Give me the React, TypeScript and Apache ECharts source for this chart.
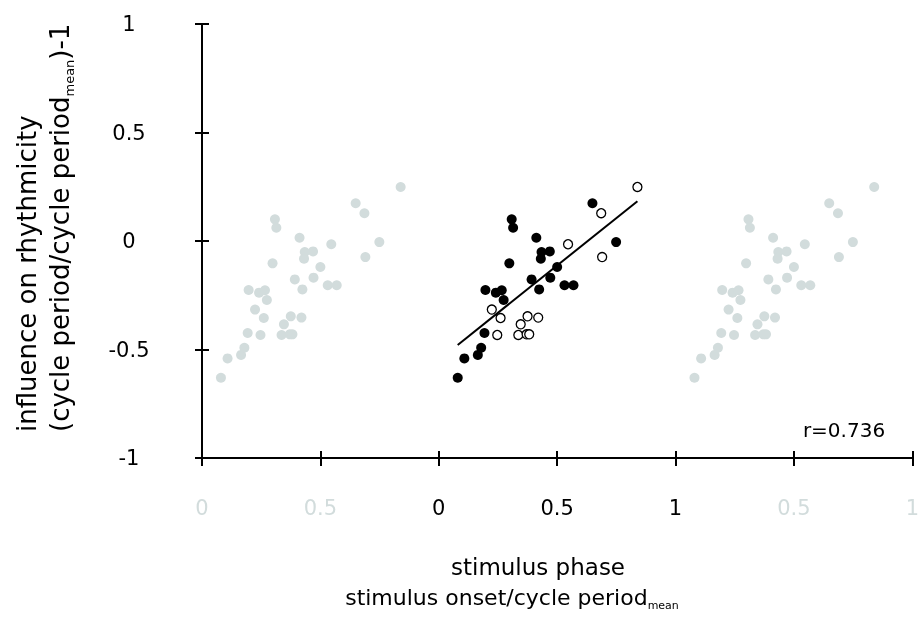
import React, { useEffect, useRef } from "react";
import * as echarts from "echarts";

// filled circles (stimulus phase, influence on rhythmicity)
const filledX = [0.080, 0.108, 0.165, 0.179, 0.193, 0.197, 0.241, 0.266, 0.274, 0.298, 0.308, 0.314, 0.392, 0.424, 0.412, 0.434, 0.431, 0.469, 0.471, 0.500, 0.531, 0.569, 0.649, 0.749];
const filledY = [-0.630, -0.541, -0.525, -0.492, -0.424, -0.226, -0.238, -0.227, -0.272, -0.103, 0.100, 0.061, -0.177, -0.223, 0.015, -0.051, -0.082, -0.048, -0.169, -0.120, -0.204, -0.204, 0.174, -0.005];
// open circles
const openX = [0.224, 0.261, 0.247, 0.346, 0.375, 0.420, 0.336, 0.371, 0.382, 0.546, 0.686, 0.690, 0.839];
const openY = [-0.316, -0.355, -0.433, -0.384, -0.347, -0.353, -0.433, -0.430, -0.430, -0.015, 0.128, -0.074, 0.249];
// regression line end points
const fitX = [0.080, 0.839];
const fitY = [-0.479, 0.183];
// tick labels
const xTickValues = [-1, -0.5, 0, 0.5, 1, 1.5, 2];
const xTickLabels = ["0", "0.5", "0", "0.5", "1", "0.5", "1"];
const xTickGray = [true, true, false, false, false, true, true];
const yTickValues = [-1, -0.5, 0, 0.5, 1];
const yTickLabels = ["-1", "-0.5", "0", "0.5", "1"];
const rText = "r=0.736";

const FONT = "'DejaVu Sans', Verdana, sans-serif";
const GRAY = "#d2dcdc";
const TICK_FS = 21;

export default function App() {
  const ref = useRef<HTMLDivElement>(null);
  useEffect(() => {
    if (!ref.current) return;
    const chart = echarts.init(ref.current, undefined, { renderer: "svg" });
    const allPts = filledX.map((x, i) => [x, filledY[i]]).concat(openX.map((x, i) => [x, openY[i]]));
    const leftGhost = allPts.map(([x, y]) => [x - 1, y]);
    const rightGhost = allPts.map(([x, y]) => [x + 1, y]);
    const findIdx = (arr: number[], v: number) => arr.findIndex((a) => Math.abs(a - v) < 1e-6);

    const baseX = {
      type: "value" as const,
      min: -1,
      max: 2,
      interval: 0.5,
      position: "bottom" as const,
      splitLine: { show: false },
    };
    const baseY = {
      type: "value" as const,
      min: -1,
      max: 1,
      interval: 0.5,
      position: "left" as const,
      splitLine: { show: false },
    };

    chart.setOption({
      animation: false,
      textStyle: { fontFamily: FONT },
      grid: { left: 202, right: 9, top: 24, bottom: 160, containLabel: false },
      xAxis: [
        {
          ...baseX,
          axisLine: { onZero: false, lineStyle: { color: "#000", width: 2 } },
          axisTick: { show: true, inside: false, length: 8, lineStyle: { color: "#000", width: 2 } },
          axisLabel: {
            margin: 39,
            fontSize: TICK_FS,
            fontFamily: FONT,
            formatter: (v: number) => {
              const i = findIdx(xTickValues, v);
              if (i < 0) return "";
              return xTickGray[i] ? `{g|${xTickLabels[i]}}` : `{k|${xTickLabels[i]}}`;
            },
            rich: {
              g: { color: GRAY, fontSize: TICK_FS, fontFamily: FONT },
              k: { color: "#000", fontSize: TICK_FS, fontFamily: FONT },
            },
          },
        },
        {
          ...baseX,
          axisLine: { show: false, onZero: false },
          axisTick: { show: true, inside: true, length: 7, lineStyle: { color: "#000", width: 2 } },
          axisLabel: { show: false },
        },
      ],
      yAxis: [
        {
          ...baseY,
          axisLine: { onZero: false, lineStyle: { color: "#000", width: 2 } },
          axisTick: { show: true, inside: false, length: 7, lineStyle: { color: "#000", width: 2 } },
          axisLabel: {
            margin: 73,
            align: "center",
            fontSize: TICK_FS,
            color: "#000",
            fontFamily: FONT,
            formatter: (v: number) => {
              const i = findIdx(yTickValues, v);
              return i < 0 ? "" : yTickLabels[i];
            },
          },
        },
        {
          ...baseY,
          axisLine: { show: false, onZero: false },
          axisTick: { show: true, inside: true, length: 7, lineStyle: { color: "#000", width: 2 } },
          axisLabel: { show: false },
        },
      ],
      series: [
        {
          type: "scatter",
          data: leftGhost,
          symbolSize: 10,
          itemStyle: { color: GRAY, opacity: 1 },
        },
        {
          type: "scatter",
          data: rightGhost,
          symbolSize: 10,
          itemStyle: { color: GRAY, opacity: 1 },
        },
        {
          type: "line",
          data: fitX.map((x, i) => [x, fitY[i]]),
          showSymbol: false,
          symbol: "none",
          lineStyle: { color: "#000", width: 2 },
        },
        {
          type: "scatter",
          data: filledX.map((x, i) => [x, filledY[i]]),
          symbolSize: 10,
          itemStyle: { color: "#000", opacity: 1 },
        },
        {
          type: "scatter",
          data: openX.map((x, i) => [x, openY[i]]),
          symbolSize: 9,
          itemStyle: { color: "#fff", borderColor: "#000", borderWidth: 1.3, opacity: 1 },
        },
      ],
      graphic: [
        {
          type: "text",
          x: 27,
          y: 432,
          rotation: Math.PI / 2,
          style: {
            text: "influence on rhythmicity",
            fontSize: 26,
            fontFamily: FONT,
            fill: "#000",
            align: "left",
            verticalAlign: "middle",
          },
        },
        {
          type: "text",
          x: 60,
          y: 432,
          rotation: Math.PI / 2,
          style: {
            text: "(cycle period/cycle period{sub|mean})-1",
            fontSize: 26,
            fontFamily: FONT,
            fill: "#000",
            align: "left",
            verticalAlign: "middle",
            lineHeight: 32,
            rich: {
              sub: { fontSize: 13, fontFamily: FONT, fill: "#000", verticalAlign: "bottom", lineHeight: 32 },
            },
          },
        },
        {
          type: "text",
          x: 538,
          y: 567,
          style: {
            text: "stimulus phase",
            fontSize: 23,
            fontFamily: FONT,
            fill: "#000",
            align: "center",
            verticalAlign: "middle",
          },
        },
        {
          type: "text",
          x: 512,
          y: 597,
          style: {
            text: "stimulus onset/cycle period{sub|mean}",
            fontSize: 22,
            fontFamily: FONT,
            fill: "#000",
            align: "center",
            verticalAlign: "middle",
            lineHeight: 28,
            rich: {
              sub: { fontSize: 11, fontFamily: FONT, fill: "#000", verticalAlign: "bottom", lineHeight: 28 },
            },
          },
        },
        {
          type: "text",
          x: 844,
          y: 430,
          style: {
            text: rText,
            fontSize: 20,
            fontFamily: FONT,
            fill: "#000",
            align: "center",
            verticalAlign: "middle",
          },
        },
      ],
    });
    return () => chart.dispose();
  }, []);
  return <div ref={ref} style={{ position: "fixed", left: 0, top: 0, width: 922, height: 618 }} />;
}
